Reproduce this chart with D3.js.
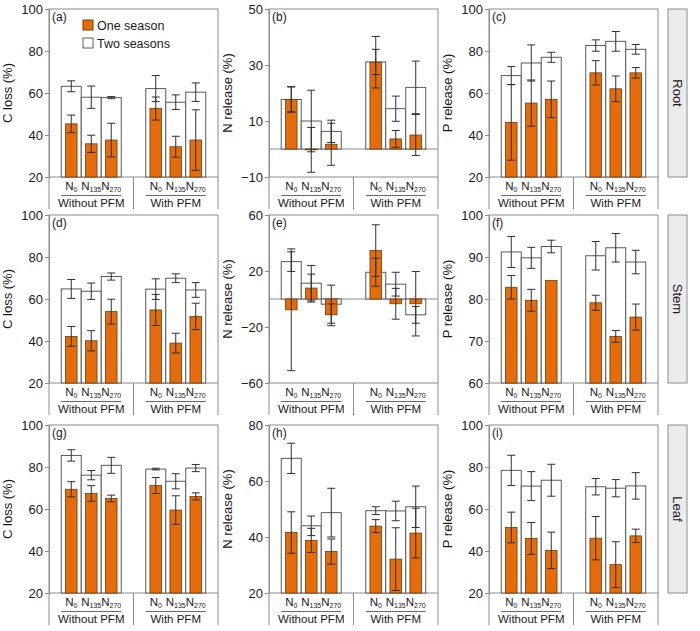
<!DOCTYPE html>
<html><head><meta charset="utf-8">
<script src="https://cdn.jsdelivr.net/npm/d3@7"></script>
<style>body{margin:0;background:#fff}svg{display:block;font-family:"Liberation Sans",Arial,sans-serif}</style>
</head><body><svg id="c" width="700" height="631"></svg>
<script>
// ---- categories / labels ----
const groups = ["Without PFM", "With PFM"];
const levels = ["0", "135", "270"];
const organs = ["Root", "Stem", "Leaf"];
const metrics = ["C loss (%)", "N release (%)", "P release (%)"];
const panelLabels = ["(a)","(b)","(c)","(d)","(e)","(f)","(g)","(h)","(i)"];
const seriesNames = ["One season", "Two seasons"];

// ---- y domains & tick labels per panel ----
const domains = [[20,100],[-10,50],[20,100],[20,100],[-60,60],[60,100],[20,100],[20,80],[20,100]];
const tickVals = [[20,40,60,80,100],[-10,10,30,50],[20,40,60,80,100],
                  [20,40,60,80,100],[-60,-20,20,60],[60,70,80,90,100],
                  [20,40,60,80,100],[20,40,60,80],[20,40,60,80,100]];

// ---- values: order = Without PFM N0,N135,N270, With PFM N0,N135,N270 ----
// (a) Root C loss
const a_one = [45.3,35.8,37.6,52.6,34.4,37.6], a_oneErr = [4.2,4.1,8.0,5.5,5.0,14.4];
const a_two = [63.2,58.0,57.8,62.1,55.6,60.4], a_twoErr = [2.6,5.3,0.5,6.2,3.5,4.4];
// (b) Root N release
const b_one = [17.7,-0.3,1.7,31.0,3.6,5.0], b_oneErr = [4.5,8.0,7.5,9.2,3.0,7.3];
const b_two = [17.7,10.0,6.3,31.1,14.4,22.0], b_twoErr = [4.5,11.0,4.0,4.5,4.5,9.4];
// (c) Root P release
const c_one = [46.0,55.2,57.0,69.6,62.0,69.6], c_oneErr = [18.0,11.0,8.7,5.8,6.1,2.5];
const c_two = [68.3,74.3,77.0,82.6,84.6,80.8], c_twoErr = [4.3,8.6,2.4,2.7,4.7,2.3];
// (d) Stem C loss
const d_one = [42.2,40.1,54.0,54.8,39.0,51.7], d_oneErr = [4.7,4.8,5.9,7.4,4.7,6.3];
const d_two = [64.8,63.7,70.7,64.7,69.9,64.3], d_twoErr = [4.5,3.9,1.7,4.9,2.1,3.5];
// (e) Stem N release
const e_one = [-7.7,7.8,-11.3,34.6,-3.4,-3.4], e_oneErr = [43.5,10.0,7.8,18.4,11.0,23.0];
const e_two = [26.7,11.3,-3.7,19.1,10.6,-11.3], e_twoErr = [7.0,12.6,13.6,10.0,8.5,6.0];
// (f) Stem P release
const f_one = [82.8,79.7,84.4,79.1,71.1,75.7], f_oneErr = [2.8,2.6,0,1.8,1.4,3.1];
const f_two = [91.2,89.8,92.5,90.3,92.2,88.8], f_twoErr = [3.7,2.5,1.5,3.4,3.4,2.8];
// (g) Leaf C loss
const g_one = [69.4,67.4,65.0,71.2,59.5,66.0], g_oneErr = [3.6,3.7,1.6,3.8,6.8,1.7];
const g_two = [85.5,76.1,80.8,79.0,73.2,79.5], g_twoErr = [2.7,2.2,3.8,0.4,3.6,1.7];
// (h) Leaf N release
const h_one = [41.6,38.8,34.8,43.9,32.1,41.4], h_oneErr = [7.4,4.3,4.5,2.3,11.2,8.9];
const h_two = [68.1,44.0,48.7,49.4,49.3,50.8], h_twoErr = [5.4,3.5,8.7,1.4,3.5,7.4];
// (i) Leaf P release
const i_one = [51.2,46.0,40.3,46.1,33.5,47.2], i_oneErr = [7.3,7.6,8.7,10.3,10.9,3.2];
const i_two = [78.4,70.9,73.7,70.6,69.9,71.0], i_twoErr = [7.2,6.9,7.6,3.9,4.1,6.3];

const panels = [
  [a_one,a_oneErr,a_two,a_twoErr],[b_one,b_oneErr,b_two,b_twoErr],[c_one,c_oneErr,c_two,c_twoErr],
  [d_one,d_oneErr,d_two,d_twoErr],[e_one,e_oneErr,e_two,e_twoErr],[f_one,f_oneErr,f_two,f_twoErr],
  [g_one,g_oneErr,g_two,g_twoErr],[h_one,h_oneErr,h_two,h_twoErr],[i_one,i_oneErr,i_two,i_twoErr]
];

// ---- layout ----
const colX = [49, 269, 489], rowY = [9, 215, 425];
const pw = 169, ph = 168;
const ORANGE = "#e46c0a", ORANGE_STROKE = "#7a3a05", WHITE_STROKE = "#5a5a5a";
const FRAME = "#8c8c8c", ERR = "#303030", TXT = "#1a1a1a";

const svg = d3.select("#c");
const outer = d3.scaleBand().domain(groups).range([0, pw]).paddingInner(0.29).paddingOuter(0.145);
const inner = d3.scaleBand().domain(levels).range([0, outer.bandwidth()]);
const ow = inner.bandwidth() * 0.58;

function rows6() {
  const out = [];
  groups.forEach((g, gi) => levels.forEach((l, li) => out.push({g, l, k: gi * 3 + li})));
  return out;
}

panels.forEach((p, idx) => {
  const r = Math.floor(idx / 3), c = idx % 3;
  const [one, oneErr, two, twoErr] = p;
  const g = svg.append("g").attr("transform", `translate(${colX[c]},${rowY[r]})`);
  const y = d3.scaleLinear().domain(domains[idx]).range([ph, 0]);
  const base = domains[idx][0] < 0 ? 0 : domains[idx][0];
  const xc = d => outer(d.g) + inner(d.l) + inner.bandwidth() / 2;
  const items = rows6();

  // frame
  g.append("rect").attr("width", pw).attr("height", ph).attr("fill", "none").attr("stroke", FRAME);

  // axis
  const ax = g.append("g").call(d3.axisLeft(y).tickValues(tickVals[idx]).tickSize(4).tickSizeOuter(0));
  ax.select(".domain").attr("stroke", FRAME);
  ax.selectAll(".tick line").attr("stroke", FRAME);
  ax.selectAll(".tick text").attr("font-size", 13).attr("fill", TXT).attr("x", -6)
    .attr("font-family", '"Liberation Sans",Arial,sans-serif');

  // zero line
  if (domains[idx][0] < 0) {
    g.append("line").attr("x1", 0).attr("x2", pw).attr("y1", y(0)).attr("y2", y(0))
      .attr("stroke", "#8c8c8c").attr("stroke-width", 1.2);
  }

  // two seasons bars
  g.selectAll(".two").data(items).join("rect")
    .attr("x", d => outer(d.g) + inner(d.l))
    .attr("width", inner.bandwidth())
    .attr("y", d => Math.min(y(two[d.k]), y(base)))
    .attr("height", d => Math.abs(y(two[d.k]) - y(base)))
    .attr("fill", "#fff").attr("stroke", WHITE_STROKE).attr("stroke-width", 1);

  // one season bars
  g.selectAll(".one").data(items).join("rect")
    .attr("x", d => xc(d) - ow / 2)
    .attr("width", ow)
    .attr("y", d => Math.min(y(one[d.k]), y(base)))
    .attr("height", d => Math.abs(y(one[d.k]) - y(base)))
    .attr("fill", ORANGE).attr("stroke", ORANGE_STROKE).attr("stroke-width", 0.8);

  // error bars
  function errBars(vals, errs) {
    items.forEach(d => {
      const e = errs[d.k];
      if (!e) return;
      const cx = xc(d), y1 = y(vals[d.k] + e), y2 = y(vals[d.k] - e);
      const eg = g.append("g").attr("stroke", ERR).attr("stroke-width", 1);
      eg.append("line").attr("x1", cx).attr("x2", cx).attr("y1", y1).attr("y2", y2);
      eg.append("line").attr("x1", cx - 4).attr("x2", cx + 4).attr("y1", y1).attr("y2", y1);
      eg.append("line").attr("x1", cx - 4).attr("x2", cx + 4).attr("y1", y2).attr("y2", y2);
    });
  }
  errBars(two, twoErr);
  errBars(one, oneErr);

  // panel label
  g.append("text").attr("x", 3).attr("y", 12).attr("font-size", 12).attr("fill", TXT).text(panelLabels[idx]);

  // axis title
  g.append("text").attr("transform", `translate(${-37},${ph / 2}) rotate(-90)`)
    .attr("text-anchor", "middle").attr("font-size", 13).attr("fill", TXT).text(metrics[c]);

  // x labels below
  const lab = g.append("g").attr("transform", `translate(0,${ph})`);
  [0, pw / 2, pw].forEach(xv => {
    lab.append("line").attr("x1", xv).attr("x2", xv).attr("y1", 0).attr("y2", 32).attr("stroke", FRAME);
  });
  items.forEach(d => {
    const t = lab.append("text").attr("x", xc(d)).attr("y", 13).attr("text-anchor", "middle")
      .attr("font-size", 11.5).attr("fill", TXT);
    t.append("tspan").text("N");
    t.append("tspan").attr("dy", 2.2).attr("font-size", 7).text(d.l);
  });
  groups.forEach(gr => {
    lab.append("line").attr("x1", outer(gr)).attr("x2", outer(gr) + outer.bandwidth())
      .attr("y1", 18.5).attr("y2", 18.5).attr("stroke", "#444").attr("stroke-width", 0.8);
    lab.append("text").attr("x", outer(gr) + outer.bandwidth() / 2).attr("y", 29.5)
      .attr("text-anchor", "middle").attr("font-size", 11.5).attr("fill", TXT).text(gr);
  });

  // strip
  if (c === 2) {
    const sx = pw + 10;
    g.append("rect").attr("x", sx).attr("y", 0).attr("width", 19).attr("height", ph)
      .attr("fill", "#ebebeb").attr("stroke", "#8c8c8c");
    g.append("text").attr("transform", `translate(${sx + 9.5 - 4.5},${ph / 2}) rotate(90)`)
      .attr("text-anchor", "middle").attr("font-size", 13).attr("fill", TXT).text(organs[r]);
  }

  // legend
  if (idx === 0) {
    const lg = g.append("g").attr("transform", "translate(34,11)");
    seriesNames.forEach((s, si) => {
      lg.append("rect").attr("x", 0).attr("y", si * 18).attr("width", 10).attr("height", 10)
        .attr("fill", si === 0 ? ORANGE : "#fff").attr("stroke", si === 0 ? ORANGE_STROKE : WHITE_STROKE);
      lg.append("text").attr("x", 14).attr("y", si * 18 + 9.5).attr("font-size", 12.5).attr("fill", TXT).text(s);
    });
  }
});
</script></body></html>
